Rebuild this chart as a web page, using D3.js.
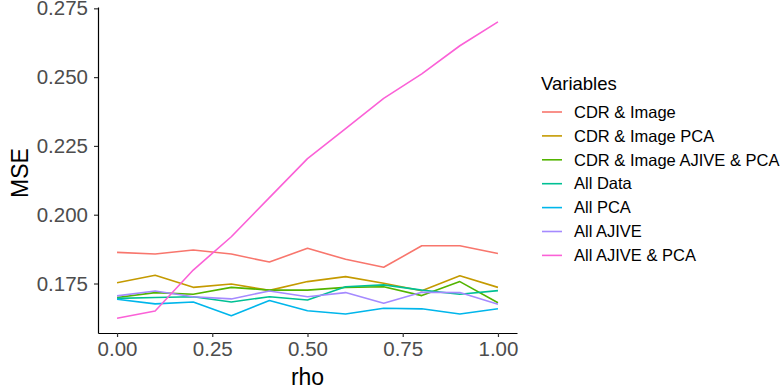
<!DOCTYPE html>
<html>
<head>
<meta charset="utf-8">
<script src="https://cdn.jsdelivr.net/npm/d3@7"></script>
<style>
    body { margin: 0; background: #fff; }
    svg { display: block; font-family: "Liberation Sans", Arial, sans-serif; }
</style>
</head>
<body>
<svg id="chart" width="782" height="392"></svg>
<script>
// data
let rho = [0, 0.1, 0.2, 0.3, 0.4, 0.5, 0.6, 0.7, 0.8, 0.9, 1.0];
let seriesNames = ["CDR & Image", "CDR & Image PCA", "CDR & Image AJIVE & PCA",
    "All Data", "All PCA", "All AJIVE", "All AJIVE & PCA"];
let seriesColors = ["#F8766D", "#C49A00", "#53B400", "#00C094", "#00B6EB", "#A58AFF", "#FB61D7"];
let cdrImage = [0.1863, 0.1857, 0.1872, 0.1857, 0.1828, 0.1878, 0.1838, 0.1809, 0.1887, 0.1887, 0.1859];
let cdrImagePca = [0.1753, 0.1780, 0.1736, 0.1748, 0.1725, 0.1757, 0.1775, 0.1751, 0.1724, 0.1778, 0.1736];
let cdrImageAjivePca = [0.1699, 0.1717, 0.1711, 0.1736, 0.1726, 0.1726, 0.1736, 0.1738, 0.1706, 0.1757, 0.1680];
let allData = [0.1696, 0.1699, 0.1702, 0.1683, 0.1702, 0.1690, 0.1738, 0.1745, 0.1726, 0.1711, 0.1724];
let allPca = [0.1693, 0.1676, 0.1683, 0.1633, 0.1688, 0.1651, 0.1639, 0.1660, 0.1658, 0.1639, 0.1658];
let allAjive = [0.1705, 0.1723, 0.1702, 0.1694, 0.1723, 0.1702, 0.1717, 0.1678, 0.1718, 0.1717, 0.1675];
let allAjivePca = [0.1624, 0.1650, 0.1799, 0.1920, 0.2062, 0.2204, 0.2313, 0.2423, 0.2512, 0.2614, 0.2701];
let xTicks = [0, 0.25, 0.5, 0.75, 1.0];
let yTicks = [0.175, 0.200, 0.225, 0.250, 0.275];

function draw_chart() {
    let svg = d3.select("#chart");
    let margin = ({top: 7, right: 265, bottom: 59, left: 98});
    let width = 782, height = 392;
    let allValues = [cdrImage, cdrImagePca, cdrImageAjivePca, allData, allPca, allAjive, allAjivePca];
    let data = seriesNames.map((name, i) => ({
        name: name,
        color: seriesColors[i],
        value: rho.map((r, j) => ({rho: r, value: allValues[i][j]})),
    }));

    // ggplot style 5% expansion
    let [vmin, vmax] = d3.extent(allValues.flat());
    let pad = (vmax - vmin) * 0.05;
    let x = d3.scaleLinear()
        .domain([-0.05, 1.05])
        .range([margin.left, width - margin.right]);
    let y = d3.scaleLinear()
        .domain([vmin - pad, vmax + pad])
        .range([height - margin.bottom, margin.top]);

    let x_axis = g => g
        .attr("transform", `translate(0, ${height - margin.bottom})`)
        .call(d3.axisBottom(x).tickValues(xTicks).tickFormat(d3.format(".2f"))
            .tickSize(4).tickSizeOuter(0).tickPadding(4));
    let y_axis = g => g
        .attr("transform", `translate(${margin.left}, 0)`)
        .call(d3.axisLeft(y).tickValues(yTicks).tickFormat(d3.format(".3f"))
            .tickSize(4).tickSizeOuter(0).tickPadding(6));

    for (let ax of [x_axis, y_axis]) {
        let g = svg.append("g").call(ax);
        g.select(".domain").attr("stroke", "#000").attr("stroke-width", 1.2);
        g.selectAll(".tick line").attr("stroke", "#333").attr("stroke-width", 1.2);
        g.selectAll(".tick text")
            .attr("fill", "#4d4d4d")
            .style("font-size", "20.5px")
            .style("font-family", "'Liberation Sans', Arial, sans-serif");
    }

    let line = d3.line()
        .x(d => x(d.rho))
        .y(d => y(d.value));

    svg.append("g").selectAll("path")
        .data(data)
        .join("path")
        .attr("fill", "none")
        .attr("stroke", d => d.color)
        .attr("stroke-width", 1.6)
        .attr("stroke-linejoin", "round")
        .attr("d", d => line(d.value));

    // axis titles
    svg.append("text")
        .attr("x", (margin.left + width - margin.right) / 2)
        .attr("y", 385)
        .attr("text-anchor", "middle")
        .style("font-size", "23px")
        .text("rho");
    svg.append("text")
        .attr("transform", `translate(28, ${(margin.top + height - margin.bottom) / 2 + 3}) rotate(-90)`)
        .attr("text-anchor", "middle")
        .style("font-size", "23px")
        .text("MSE");

    // legend
    let legend = svg.append("g").attr("transform", "translate(541, 0)");
    legend.append("text")
        .attr("x", 0)
        .attr("y", 90)
        .style("font-size", "18.5px")
        .text("Variables");
    let rows = legend.selectAll(".row")
        .data(data)
        .join("g")
        .attr("class", "row")
        .attr("transform", (d, i) => `translate(0, ${112 + i * 23.9})`);
    rows.append("line")
        .attr("x1", 1).attr("x2", 21)
        .attr("stroke", d => d.color)
        .attr("stroke-width", 1.6);
    rows.append("text")
        .attr("x", 33)
        .attr("dy", "0.35em")
        .style("font-size", "16.5px")
        .text(d => d.name);
}

draw_chart();
</script>
</body>
</html>
